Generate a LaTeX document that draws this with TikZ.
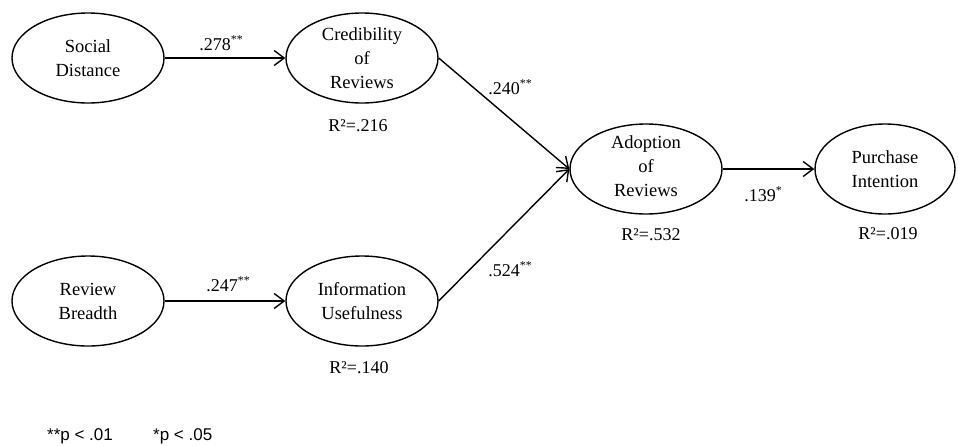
\documentclass[tikz,border=0pt]{standalone}
\usepackage{fontspec}
\setmainfont{Liberation Serif}
\newfontfamily\legendfont{Liberation Sans}
\usetikzlibrary{shapes.geometric,arrows.meta}
\newcommand{\sig}[1]{\raisebox{0.42em}{\fontsize{12}{12}\selectfont #1}}
\tikzset{
  latent/.style={draw, ellipse, line width=1.4pt, inner sep=0pt, minimum width=152pt, minimum height=90pt},
  lbl/.style={align=center, font=\fontsize{18.5}{24}\selectfont, inner sep=0pt},
  coef/.style={font=\fontsize{18}{20}\selectfont, inner sep=0pt},
  legend/.style={inner sep=0pt, anchor=west, font=\legendfont\fontsize{17}{20}\selectfont},
  path/.style={line width=1.4pt, -{Straight Barb[length=10pt,width=15pt,line width=1.4pt]}}
}
\begin{document}
\begin{tikzpicture}[x=1pt,y=-1pt]
\useasboundingbox (0,0) rectangle (958,445);
% ellipses
\node[latent] (sd) at (88,58) {};
\node[latent] (cr) at (362,58) {};
\node[latent] (rb) at (88,301) {};
\node[latent] (iu) at (362,301) {};
\node[latent] (ad) at (646,169) {};
\node[latent, minimum width=140pt] (pi) at (885,169) {};
% texts
\node[lbl] (sdt) at (sd) {Social\\Distance};
\node[lbl] (crt) at (cr) {Credibility\\of\\Reviews};
\node[lbl] (rbt) at (rb) {Review\\Breadth};
\node[lbl] (iut) at (iu) {Information\\Usefulness};
\node[lbl] (adt) at ([yshift=3pt]ad) {Adoption\\of\\Reviews};
\node[lbl] (pit) at (pi) {Purchase\\Intention};
% arrows
\draw[path] (sd.east) -- (cr.west);
\draw[path] (rb.east) -- (iu.west);
\draw[path] (cr.east) -- (ad.west);
\draw[path] (iu.east) -- (ad.west);
\draw[path] (ad.east) -- (pi.west);
% coefficients
\node[coef] (c1) at (221,43) {.278\sig{**}};
\node[coef] (c2) at (228,284) {.247\sig{**}};
\node[coef] (c3) at (510,87) {.240\sig{**}};
\node[coef] (c4) at (510,269) {.524\sig{**}};
\node[coef] (c5) at (763,194) {.139\sig{*}};
% R squared
\node[coef] (r1) at (358,126) {R²=.216};
\node[coef] (r2) at (359,368) {R²=.140};
\node[coef] (r3) at (651,235) {R²=.532};
\node[coef] (r4) at (888,234) {R²=.019};
% legend
\node[legend] (lg1) at (47,436) {**p < .01};
\node[legend] (lg2) at (153,436) {*p < .05};
\end{tikzpicture}
\end{document}
